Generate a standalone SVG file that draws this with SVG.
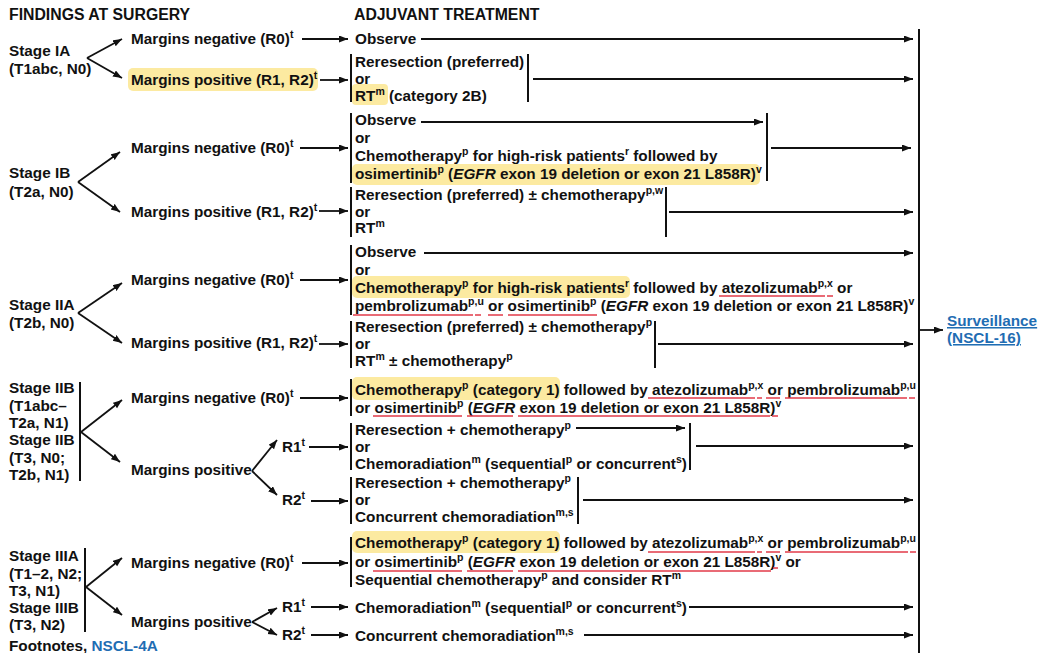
<svg xmlns="http://www.w3.org/2000/svg" width="1038" height="653" viewBox="0 0 1038 653">
<style>
text{font-family:"Liberation Sans",Arial,sans-serif;font-weight:bold;font-size:15.3px;fill:#111}
.h{font-size:15.8px}
.s{font-size:10.5px;baseline-shift:6px}
.i{font-style:italic}
.lk{fill:#1f6db3}
.u{text-decoration:underline}
.a{stroke:#111;stroke-width:1.8;fill:none;marker-end:url(#ah)}
.b{stroke:#111;stroke-width:2;fill:none}
.hl{fill:#fce690;opacity:0.85}
.r{stroke:#e23a48;stroke-width:1.5}
</style>
<defs>
<marker id="ah" markerUnits="userSpaceOnUse" markerWidth="10" markerHeight="8" refX="9" refY="3.5" orient="auto">
<path d="M0,0 L9,3.5 L0,7 z" fill="#111"/>
</marker>
</defs>
<rect width="1038" height="653" fill="#fff"/>

<g id="highlights">
<rect class="hl" x="128" y="68" width="190" height="23" rx="5"/>
<rect class="hl" x="352" y="84" width="36" height="21" rx="4"/>
<rect class="hl" x="352" y="164" width="408" height="21" rx="5"/>
<rect class="hl" x="352" y="276" width="278" height="22" rx="5"/>
<rect class="hl" x="352" y="377" width="208" height="23" rx="5"/>
<rect class="hl" x="352" y="531" width="208" height="22" rx="5"/>
</g>

<g id="headers">
<text class="h" x="9" y="20">FINDINGS AT SURGERY</text>
<text class="h" x="354" y="20">ADJUVANT TREATMENT</text>
</g>

<g id="stage-ia">
<text x="9" y="56">Stage IA</text>
<text x="9" y="74">(T1abc, N0)</text>
<text x="131" y="44">Margins negative (R0)<tspan class="s">t</tspan></text>
<text x="131" y="85">Margins positive (R1, R2)<tspan class="s">t</tspan></text>
</g>
<g id="stage-ib">
<text x="9" y="178">Stage IB</text>
<text x="9" y="197">(T2a, N0)</text>
<text x="131" y="153">Margins negative (R0)<tspan class="s">t</tspan></text>
<text x="131" y="217">Margins positive (R1, R2)<tspan class="s">t</tspan></text>
</g>
<g id="stage-iia">
<text x="9" y="310">Stage IIA</text>
<text x="9" y="328">(T2b, N0)</text>
<text x="131" y="285">Margins negative (R0)<tspan class="s">t</tspan></text>
<text x="131" y="348">Margins positive (R1, R2)<tspan class="s">t</tspan></text>
</g>
<g id="stage-iib">
<text x="9" y="393">Stage IIB</text>
<text x="9" y="411">(T1abc–</text>
<text x="9" y="428">T2a, N1)</text>
<text x="9" y="445">Stage IIB</text>
<text x="9" y="463">(T3, N0;</text>
<text x="9" y="480">T2b, N1)</text>
<text x="131" y="403">Margins negative (R0)<tspan class="s">t</tspan></text>
<text x="131" y="475">Margins positive</text>
<text x="282" y="452">R1<tspan class="s">t</tspan></text>
<text x="282" y="505">R2<tspan class="s">t</tspan></text>
</g>
<g id="stage-iii">
<text x="9" y="561">Stage IIIA</text>
<text x="9" y="579">(T1–2, N2;</text>
<text x="9" y="596">T3, N1)</text>
<text x="9" y="613">Stage IIIB</text>
<text x="9" y="630">(T3, N2)</text>
<text x="131" y="568">Margins negative (R0)<tspan class="s">t</tspan></text>
<text x="131" y="627">Margins positive</text>
<text x="282" y="612">R1<tspan class="s">t</tspan></text>
<text x="282" y="640">R2<tspan class="s">t</tspan></text>
</g>
<g id="footnotes">
<text x="9" y="651">Footnotes, <tspan class="lk">NSCL-4A</tspan></text>
</g>

<g id="tx-ia">
<text x="355" y="44">Observe</text>
<text x="355" y="67">Reresection (preferred)</text>
<text x="355" y="84">or</text>
<text x="355" y="101">RT<tspan class="s">m</tspan> (category 2B)</text>
</g>
<g id="tx-ib">
<text x="355" y="125">Observe</text>
<text x="355" y="143">or</text>
<text x="355" y="161">Chemotherapy<tspan class="s">p</tspan> for high-risk patients<tspan class="s">r</tspan> followed by</text>
<text x="355" y="179">osimertinib<tspan class="s">p</tspan> (<tspan class="i">EGFR</tspan> exon 19 deletion or exon 21 L858R)<tspan class="s">v</tspan></text>
<text x="355" y="200">Reresection (preferred) ± chemotherapy<tspan class="s">p,w</tspan></text>
<text x="355" y="217">or</text>
<text x="355" y="233">RT<tspan class="s">m</tspan></text>
</g>
<g id="tx-iia">
<text x="355" y="257">Observe</text>
<text x="355" y="275">or</text>
<text x="355" y="293">Chemotherapy<tspan class="s">p</tspan> for high-risk patients<tspan class="s">r</tspan> followed by atezolizumab<tspan class="s">p,x</tspan> or</text>
<text x="355" y="311">pembrolizumab<tspan class="s">p,u</tspan> or osimertinib<tspan class="s">p</tspan> (<tspan class="i">EGFR</tspan> exon 19 deletion or exon 21 L858R)<tspan class="s">v</tspan></text>
<text x="355" y="332">Reresection (preferred) ± chemotherapy<tspan class="s">p</tspan></text>
<text x="355" y="349">or</text>
<text x="355" y="366">RT<tspan class="s">m</tspan> ± chemotherapy<tspan class="s">p</tspan></text>
</g>
<g id="tx-iib">
<text x="355" y="395">Chemotherapy<tspan class="s">p</tspan> (category 1) followed by atezolizumab<tspan class="s">p,x</tspan> or pembrolizumab<tspan class="s">p,u</tspan></text>
<text x="355" y="413">or osimertinib<tspan class="s">p</tspan> (<tspan class="i">EGFR</tspan> exon 19 deletion or exon 21 L858R)<tspan class="s">v</tspan></text>
<text x="355" y="435">Reresection + chemotherapy<tspan class="s">p</tspan></text>
<text x="355" y="452">or</text>
<text x="355" y="469">Chemoradiation<tspan class="s">m</tspan> (sequential<tspan class="s">p</tspan> or concurrent<tspan class="s">s</tspan>)</text>
<text x="355" y="488">Reresection + chemotherapy<tspan class="s">p</tspan></text>
<text x="355" y="505">or</text>
<text x="355" y="522">Concurrent chemoradiation<tspan class="s">m,s</tspan></text>
</g>
<g id="tx-iii">
<text x="355" y="548">Chemotherapy<tspan class="s">p</tspan> (category 1) followed by atezolizumab<tspan class="s">p,x</tspan> or pembrolizumab<tspan class="s">p,u</tspan></text>
<text x="355" y="567">or osimertinib<tspan class="s">p</tspan> (<tspan class="i">EGFR</tspan> exon 19 deletion or exon 21 L858R)<tspan class="s">v</tspan> or</text>
<text x="355" y="585">Sequential chemotherapy<tspan class="s">p</tspan> and consider RT<tspan class="s">m</tspan></text>
<text x="355" y="613">Chemoradiation<tspan class="s">m</tspan> (sequential<tspan class="s">p</tspan> or concurrent<tspan class="s">s</tspan>)</text>
<text x="355" y="641">Concurrent chemoradiation<tspan class="s">m,s</tspan></text>
</g>
<g id="surveillance">
<text x="947" y="326" class="lk u">Surveillance</text>
<text x="947" y="343" class="lk u">(NSCL-16)</text>
</g>

<g id="underlines">
<line class="r" x1="719" y1="296" x2="825" y2="296"/><line class="r" x1="827" y1="296" x2="833" y2="296"/>
<line class="r" x1="353" y1="315" x2="473" y2="315"/><line class="r" x1="475" y1="315" x2="481" y2="315"/>
<line class="r" x1="488" y1="315" x2="503" y2="315"/><line class="r" x1="508" y1="315" x2="597" y2="315"/>
<line class="r" x1="648" y1="398" x2="755" y2="398"/><line class="r" x1="757" y1="398" x2="762" y2="398"/>
<line class="r" x1="766" y1="398" x2="780" y2="398"/><line class="r" x1="785" y1="398" x2="907" y2="398"/><line class="r" x1="909" y1="398" x2="915" y2="398"/>
<line class="r" x1="373" y1="416" x2="462" y2="416"/><line class="r" x1="467" y1="416" x2="513" y2="416"/>
<line class="r" x1="518" y1="416" x2="770" y2="416"/><line class="r" x1="772" y1="416" x2="778" y2="416"/>
<line class="r" x1="648" y1="552" x2="755" y2="552"/><line class="r" x1="757" y1="552" x2="762" y2="552"/>
<line class="r" x1="766" y1="552" x2="780" y2="552"/><line class="r" x1="785" y1="552" x2="908" y2="552"/><line class="r" x1="910" y1="552" x2="916" y2="552"/>
<line class="r" x1="373" y1="571" x2="462" y2="571"/><line class="r" x1="467" y1="571" x2="513" y2="571"/>
<line class="r" x1="518" y1="571" x2="771" y2="571"/><line class="r" x1="773" y1="568" x2="778" y2="568"/>
</g>

<g id="connectors">
<line class="a" x1="87" y1="58" x2="122" y2="39"/><line class="a" x1="87" y1="58" x2="122" y2="78"/>
<line class="a" x1="78" y1="182" x2="120" y2="152"/><line class="a" x1="78" y1="182" x2="120" y2="212"/>
<line class="a" x1="78" y1="313" x2="122" y2="283"/><line class="a" x1="78" y1="313" x2="122" y2="343"/>
<line class="a" x1="81" y1="432" x2="122" y2="400"/><line class="a" x1="81" y1="432" x2="120" y2="462"/>
<line class="a" x1="252" y1="471" x2="277" y2="440"/><line class="a" x1="252" y1="471" x2="277" y2="495"/>
<line class="a" x1="86" y1="587" x2="122" y2="558"/><line class="a" x1="86" y1="587" x2="122" y2="615"/>
<line class="a" x1="252" y1="622" x2="277" y2="608"/><line class="a" x1="252" y1="622" x2="277" y2="635"/>
<line class="b" x1="80" y1="382" x2="80" y2="481"/>
<line class="b" x1="85" y1="548" x2="85" y2="632"/>
<line class="a" x1="302" y1="39" x2="348" y2="39"/>
<line class="a" x1="320" y1="80" x2="348" y2="80"/>
<line class="a" x1="300" y1="148" x2="348" y2="148"/>
<line class="a" x1="319" y1="211" x2="348" y2="211"/>
<line class="a" x1="300" y1="280" x2="348" y2="280"/>
<line class="a" x1="319" y1="344" x2="348" y2="344"/>
<line class="a" x1="300" y1="398" x2="348" y2="398"/>
<line class="a" x1="309" y1="447" x2="348" y2="447"/>
<line class="a" x1="311" y1="501" x2="348" y2="501"/>
<line class="a" x1="302" y1="563" x2="348" y2="563"/>
<line class="a" x1="311" y1="607" x2="348" y2="607"/>
<line class="a" x1="311" y1="635" x2="348" y2="635"/>
<line class="b" x1="351" y1="54" x2="351" y2="102"/><line class="b" x1="528" y1="54" x2="528" y2="102"/>
<line class="b" x1="351" y1="113" x2="351" y2="183"/><line class="b" x1="767" y1="113" x2="767" y2="181"/>
<line class="b" x1="351" y1="187" x2="351" y2="237"/><line class="b" x1="666" y1="187" x2="666" y2="237"/>
<line class="b" x1="351" y1="245" x2="351" y2="315"/>
<line class="b" x1="351" y1="321" x2="351" y2="368"/><line class="b" x1="655" y1="321" x2="655" y2="368"/>
<line class="b" x1="351" y1="379" x2="351" y2="416"/>
<line class="b" x1="351" y1="423" x2="351" y2="470"/><line class="b" x1="690" y1="423" x2="690" y2="470"/>
<line class="b" x1="351" y1="477" x2="351" y2="524"/><line class="b" x1="578" y1="477" x2="578" y2="524"/>
<line class="b" x1="351" y1="537" x2="351" y2="587"/>
<line class="a" x1="421" y1="39" x2="913" y2="39"/>
<line class="a" x1="533" y1="79" x2="913" y2="79"/>
<line class="a" x1="421" y1="122" x2="763" y2="122"/>
<line class="a" x1="771" y1="148" x2="911" y2="148"/>
<line class="a" x1="669" y1="212" x2="913" y2="212"/>
<line class="a" x1="424" y1="253" x2="913" y2="253"/>
<line class="a" x1="658" y1="344" x2="913" y2="344"/>
<line class="a" x1="576" y1="428" x2="685" y2="428"/>
<line class="a" x1="696" y1="446" x2="913" y2="446"/>
<line class="a" x1="583" y1="500" x2="913" y2="500"/>
<line class="a" x1="689" y1="607" x2="913" y2="607"/>
<line class="a" x1="584" y1="635" x2="913" y2="635"/>
<line class="b" x1="919" y1="29" x2="919" y2="653"/>
<line class="a" x1="919" y1="330" x2="943" y2="330"/>
</g>
</svg>
